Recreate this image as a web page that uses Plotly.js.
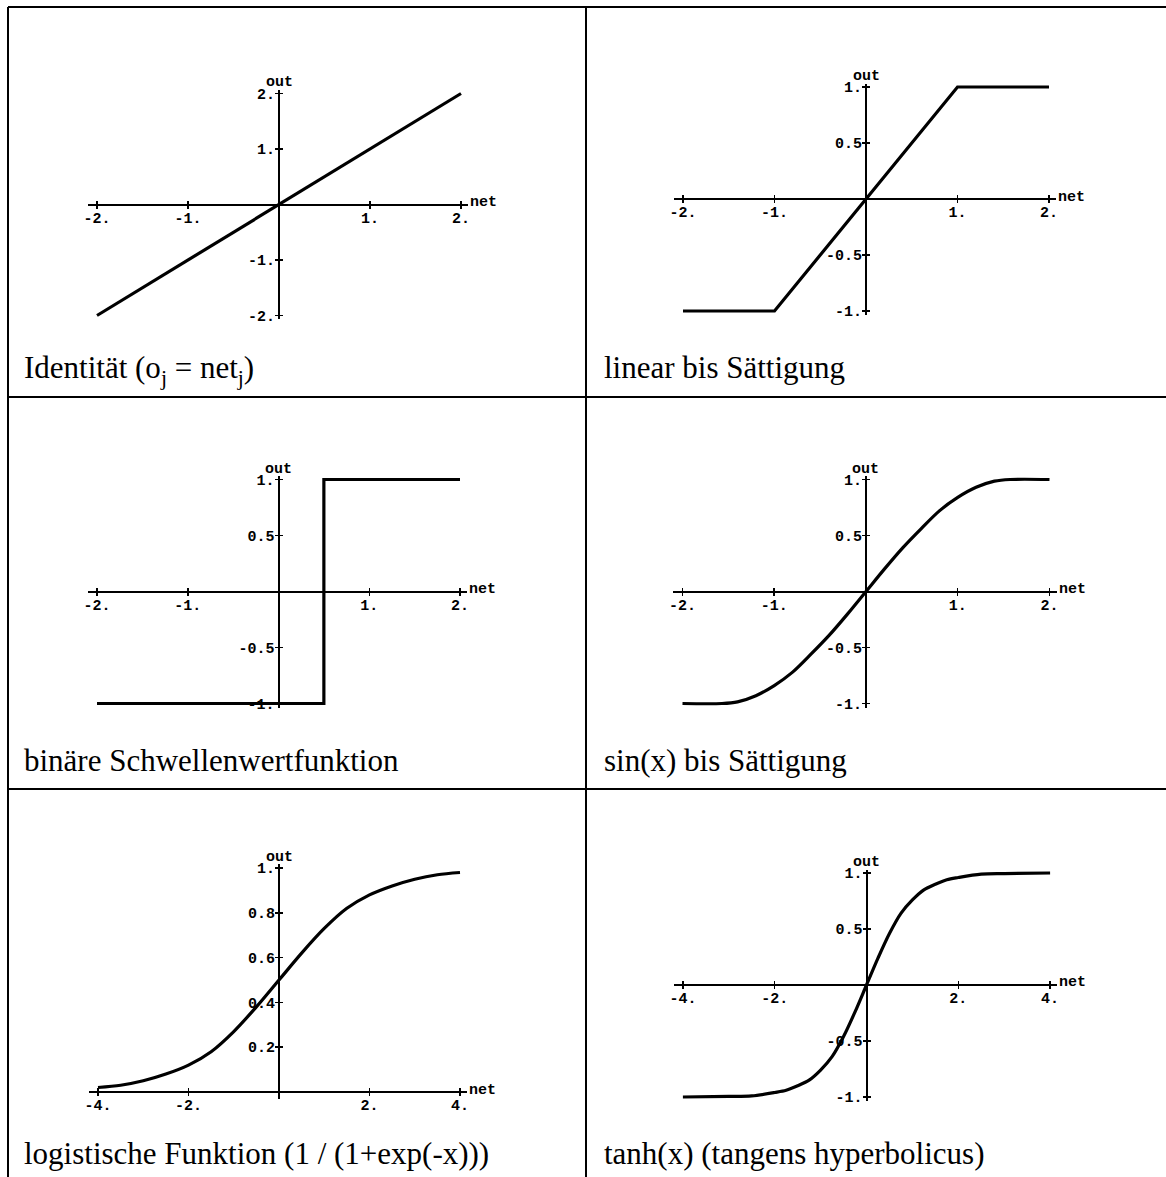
<!DOCTYPE html>
<html>
<head>
<meta charset="utf-8">
<script src="https://cdn.plot.ly/plotly-3.0.1.min.js"></script>
<style>
  html, body { margin: 0; padding: 0; background: #fff; }
  #chart { width: 1166px; height: 1177px; }
</style>
</head>
<body>
<div id="chart"></div>
<script>
// values
const identX = [-2, 2];
const identY = [-2, 2];

const linSatX = [-2, -1, 1, 2];
const linSatY = [-1, -1, 1, 1];

const stepX = [-2, 0.5, 0.5, 2];
const stepY = [-1, -1, 1, 1];

const sinSatX = [-2, -1.57, -1.4, -1.2, -1.0, -0.8, -0.6, -0.4, -0.2, 0, 0.2, 0.4, 0.6, 0.8, 1.0, 1.2, 1.4, 1.57, 2];
const sinSatY = [-1, -1, -0.985, -0.93, -0.84, -0.72, -0.56, -0.39, -0.2, 0, 0.2, 0.39, 0.56, 0.72, 0.84, 0.93, 0.985, 1, 1];

const logX = [-4, -3.5, -3, -2.5, -2, -1.5, -1, -0.5, 0, 0.5, 1, 1.5, 2, 2.5, 3, 3.5, 4];
const logY = [0.02, 0.03, 0.05, 0.08, 0.12, 0.18, 0.27, 0.38, 0.5, 0.62, 0.73, 0.82, 0.88, 0.92, 0.95, 0.97, 0.98];

const tanhX = [-4, -3, -2.5, -2, -1.75, -1.5, -1.25, -1, -0.75, -0.5, -0.25, 0, 0.25, 0.5, 0.75, 1, 1.25, 1.5, 1.75, 2, 2.5, 3, 4];
const tanhY = [-1, -0.995, -0.99, -0.96, -0.94, -0.9, -0.85, -0.76, -0.64, -0.46, -0.24, 0, 0.24, 0.46, 0.64, 0.76, 0.85, 0.9, 0.94, 0.96, 0.99, 0.995, 1];

// tick values and labels
const ticks2 = [-2, -1, 1, 2];
const ticks2Text = ['-2.', '-1.', '1.', '2.'];
const ticks4 = [-4, -2, 2, 4];
const ticks4Text = ['-4.', '-2.', '2.', '4.'];
const ticks1 = [-1, -0.5, 0.5, 1];
const ticks1Text = ['-1.', '-0.5', '0.5', '1.'];
const ticksLog = [0.2, 0.4, 0.6, 0.8, 1];
const ticksLogText = ['0.2', '0.4', '0.6', '0.8', '1.'];

const captions = [
  'Identität (o<sub>j</sub> = net<sub>j</sub>)',
  'linear bis Sättigung',
  'binäre Schwellenwertfunktion',
  'sin(x) bis Sättigung',
  'logistische Funktion (1 / (1+exp(-x)))',
  'tanh(x) (tangens hyperbolicus)'
];

const W = 1166, H = 1177;
const px = v => v / W;
const py = v => 1 - v / H;

// cx/cy = pixel of the origin, ux/uy = pixels per unit, capX/capY = caption baseline
const panels = [
  { x: identX, y: identY, xr: [-2.1, 2.08], yr: [-2.06, 2.06], cx: 279, ux: 91, cy: 204.5, uy: 55.5,
    xv: ticks2, xl: ticks2Text, yv: ticks2, yl: ticks2Text, top: 2, capX: 22, capY: 377 },
  { x: linSatX, y: linSatY, xr: [-2.1, 2.08], yr: [-1.04, 1.03], cx: 866, ux: 91.5, cy: 199, uy: 112,
    xv: ticks2, xl: ticks2Text, yv: ticks1, yl: ticks1Text, top: 1, capX: 602, capY: 377 },
  { x: stepX, y: stepY, xr: [-2.1, 2.08], yr: [-1.04, 1.03], cx: 278.5, ux: 90.75, cy: 591.5, uy: 112,
    xv: ticks2, xl: ticks2Text, yv: ticks1, yl: ticks1Text, top: 1, capX: 22, capY: 770 },
  { x: sinSatX, y: sinSatY, xr: [-2.1, 2.08], yr: [-1.04, 1.03], cx: 866, ux: 91.75, cy: 591.5, uy: 112,
    xv: ticks2, xl: ticks2Text, yv: ticks1, yl: ticks1Text, top: 1, capX: 602, capY: 770, smooth: true },
  { x: logX, y: logY, xr: [-4.2, 4.16], yr: [-0.03, 1.02], cx: 279, ux: 45.25, cy: 1092, uy: 224,
    xv: ticks4, xl: ticks4Text, yv: ticksLog, yl: ticksLogText, top: 1, capX: 22, capY: 1163, smooth: true },
  { x: tanhX, y: tanhY, xr: [-4.2, 4.16], yr: [-1.04, 1.03], cx: 866.5, ux: 45.9, cy: 985, uy: 112,
    xv: ticks4, xl: ticks4Text, yv: ticks1, yl: ticks1Text, top: 1, capX: 602, capY: 1163, smooth: true }
];

const monoFont = { family: 'Liberation Mono, DejaVu Sans Mono, monospace', size: 15, color: '#000', weight: 'bold' };
const capFont = { family: 'Liberation Serif, Times New Roman, serif', size: 31, color: '#000' };

const data = [];
const layout = {
  width: W,
  height: H,
  margin: { l: 0, r: 0, t: 0, b: 0 },
  showlegend: false,
  paper_bgcolor: '#fff',
  plot_bgcolor: 'rgba(0,0,0,0)',
  shapes: [],
  annotations: []
};

panels.forEach(function(p, i) {
  const n = i + 1;
  const xd = [px(p.cx + p.xr[0] * p.ux), px(p.cx + p.xr[1] * p.ux)];
  const yd = [py(p.cy - p.yr[0] * p.uy), py(p.cy - p.yr[1] * p.uy)];

  data.push({
    x: p.x,
    y: p.y,
    xaxis: 'x' + n,
    yaxis: 'y' + n,
    mode: 'lines',
    line: { color: '#000', width: 3.2, shape: p.smooth ? 'spline' : 'linear', smoothing: 0.9 },
    hoverinfo: 'skip'
  });

  const common = {
    showgrid: false,
    zeroline: false,
    showline: true,
    linecolor: '#000',
    linewidth: 2,
    ticks: 'outside',
    ticklen: 3,
    tickwidth: 1.5,
    tickcolor: '#000',
    tickmode: 'array',
    tickfont: monoFont,
    fixedrange: true,
    layer: 'below traces'
  };

  layout['xaxis' + n] = Object.assign({}, common, {
    domain: xd,
    range: p.xr,
    anchor: 'free',
    position: py(p.cy),
    tickvals: p.xv,
    ticktext: p.xl,
    ticklabelstandoff: -4,
    minor: { tickmode: 'array', tickvals: p.xv, ticks: 'inside', ticklen: 3, tickwidth: 1.5, tickcolor: '#000' }
  });

  layout['yaxis' + n] = Object.assign({}, common, {
    domain: yd,
    range: p.yr,
    anchor: 'free',
    position: px(p.cx),
    tickvals: p.yv,
    ticktext: p.yl,
    ticklabelstandoff: -3,
    minor: { tickmode: 'array', tickvals: p.yv, ticks: 'inside', ticklen: 3, tickwidth: 1.5, tickcolor: '#000' }
  });

  layout.annotations.push({
    xref: 'x' + n, yref: 'y' + n, x: 0, y: p.top,
    text: 'out', showarrow: false, xanchor: 'center', yanchor: 'bottom', yshift: 0,
    font: monoFont
  });
  layout.annotations.push({
    xref: 'x' + n, yref: 'y' + n, x: p.xr[1], y: 0,
    text: 'net', showarrow: false, xanchor: 'left', yanchor: 'middle', yshift: 2,
    font: monoFont
  });
  layout.annotations.push({
    xref: 'paper', yref: 'paper', x: px(p.capX), y: py(p.capY - 0.891 * capFont.size - 1),
    text: captions[i], showarrow: false, xanchor: 'left', yanchor: 'top',
    font: capFont
  });
});

// table rules
function rule(x0, y0, x1, y1) {
  layout.shapes.push({
    type: 'line', xref: 'paper', yref: 'paper',
    x0: px(x0), y0: py(y0), x1: px(x1), y1: py(y1),
    line: { color: '#000', width: 2 }
  });
}
rule(8, 7, W, 7);
rule(8, 397, W, 397);
rule(8, 789, W, 789);
rule(8, 7, 8, H);
rule(586, 7, 586, H);

Plotly.newPlot('chart', data, layout, { staticPlot: true });
</script>
</body>
</html>
